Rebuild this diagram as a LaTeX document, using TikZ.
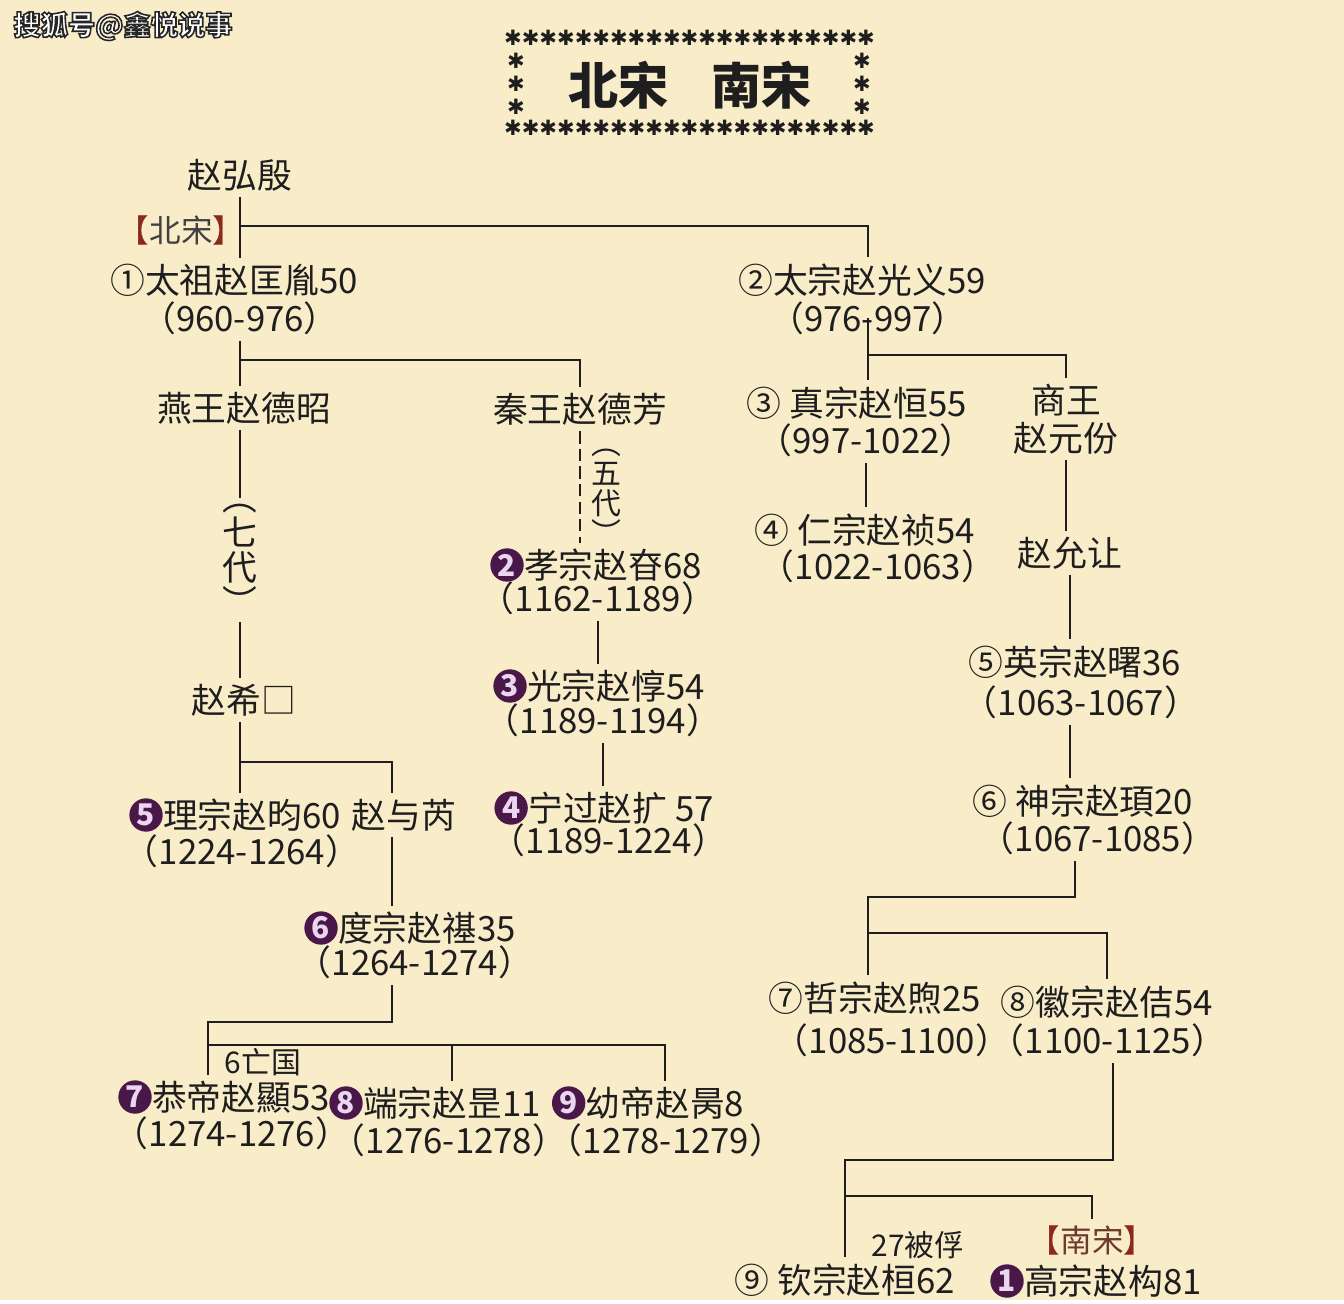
\documentclass[tikz,border=0pt]{standalone}
\usepackage{fontspec}
\setmainfont{Noto Sans CJK SC}
\newfontfamily\symfont{DejaVu Sans}
\usetikzlibrary{positioning}
\definecolor{paper}{HTML}{F9ECC9}
\definecolor{ink}{HTML}{1E1E1E}
\definecolor{plum}{HTML}{4A1848}
\definecolor{lilac}{HTML}{EBD6F2}
\definecolor{brick}{HTML}{8B2A1C}
\definecolor{rust}{HTML}{6E3A2C}
\newcommand\outlined[1]{\color{white}\special{pdf:code 0.15 G 0.9 w 2 Tr}#1\special{pdf:code 0 Tr}}
\begin{document}
\begin{tikzpicture}[x=0.02cm,y=-0.02cm,
    lbl/.style={font=\fontsize{19.8}{24}\selectfont,text=ink},
    small/.style={font=\fontsize{17}{20}\selectfont,text=ink},
    pnum/.style={circle,fill=plum,text=lilac,inner sep=0pt,minimum size=19pt,font=\bfseries\fontsize{17}{17}\selectfont},
    starmark/.style={font=\symfont\fontsize{12}{12}\selectfont,text=ink,inner sep=0pt},
    link/.style={draw=ink,line width=1.1pt}]
  \fill[paper] (0,0) rectangle (1344,1300);
  \node[font=\bfseries\fontsize{15.5}{15.5}\selectfont] (mark) at (123,26) {\outlined{搜狐号@鑫悦说事}};
  \foreach \i in {0,...,20} {
    \node[starmark] (top\i) at (513+17.65*\i,38) {✱};
    \node[starmark] (bot\i) at (513+17.65*\i,128) {✱};
  }
  \foreach \y in {61,84,107} {
    \node[starmark] (lft\y) at (516,\y) {✱};
    \node[starmark] (rgt\y) at (862,\y) {✱};
  }
  \node[font=\bfseries\fontsize{28.5}{28.5}\selectfont,text=ink] (title) at (690,85) {北宋\hspace{0.85em}南宋};
  \draw
    (240,175) node[lbl] (hongyin){赵弘殷}
    (181,230) node[lbl,font=\fontsize{18}{20}\selectfont,text=black!75] (beisong){\textcolor{brick}{【}北宋\textcolor{brick}{】}}
    (234,280) node[lbl] (taizu){①太祖赵匡胤50}
    (240,318) node[lbl] (taizuyr){（960-976）}
    (862,280) node[lbl] (taizong){②太宗赵光义59}
    (868,318) node[lbl] (taizongyr){（976-997）}
    (244,408) node[lbl] (yanwang){燕王赵德昭}
    (580,409) node[lbl] (qinwang){秦王赵德芳}
    (240,560) node[lbl,align=center,font=\fontsize{19.8}{20}\selectfont] (qidai){︵\\七\\代\\︶}
    (244,700) node[lbl] (zhaoxi){赵希□}
    (252,815) node[lbl] (lizong){理宗赵昀60}
    (242,851) node[lbl] (lizongyr){（1224-1264）}
    (404,815) node[lbl] (yurui){赵与芮}
    (427,928) node[lbl] (duzong){度宗赵禥35}
    (415,962) node[lbl] (duzongyr){（1264-1274）}
    (263,1062) node[small] (wangguo){6亡国}
    (241,1097) node[lbl] (gongdi){恭帝赵顯53}
    (232,1133) node[lbl] (gongdiyr){（1274-1276）}
    (452,1103) node[lbl] (duanzong){端宗赵昰11}
    (449,1140) node[lbl] (duanzongyr){（1276-1278）}
    (665,1103) node[lbl] (youdi){幼帝赵昺8}
    (666,1140) node[lbl] (youdiyr){（1278-1279）};
  \draw
    (606,497) node[small,align=center,font=\fontsize{17}{17}\selectfont] (wudai){︵\\五\\代\\︶}
    (613,565) node[lbl] (xiaozong){孝宗赵昚68}
    (598,598) node[lbl] (xiaozongyr){（1162-1189）}
    (616,686) node[lbl] (guangzong){光宗赵惇54}
    (603,720) node[lbl] (guangzongyr){（1189-1194）}
    (621,808) node[lbl] (ningzong){宁过赵扩 57}
    (609,840) node[lbl] (ningzongyr){（1189-1224）};
  \draw
    (857,403) node[lbl] (zhenzong){③ 真宗赵恒55}
    (866,440) node[lbl] (zhenzongyr){（997-1022）}
    (1066,419) node[lbl,align=center,font=\fontsize{19.8}{21.5}\selectfont] (shangwang){商王\\赵元份}
    (865,530) node[lbl] (renzong){④ 仁宗赵祯54}
    (878,566) node[lbl] (renzongyr){（1022-1063）}
    (1070,553) node[lbl] (yunrang){赵允让}
    (1075,662) node[lbl] (yingzong){⑤英宗赵曙36}
    (1081,702) node[lbl] (yingzongyr){（1063-1067）}
    (1083,801) node[lbl] (shenzong){⑥ 神宗赵頊20}
    (1098,838) node[lbl] (shenzongyr){（1067-1085）}
    (875,998) node[lbl] (zhezong){⑦哲宗赵煦25}
    (892,1040) node[lbl] (zhezongyr){（1085-1100）}
    (1107,1002) node[lbl] (huizong){⑧徽宗赵佶54}
    (1108,1040) node[lbl] (huizongyr){（1100-1125）}
    (918,1245) node[small] (beifu){27被俘}
    (1092,1240) node[lbl,font=\fontsize{18}{20}\selectfont,text=rust] (nansong){\textcolor{brick}{【}南宋\textcolor{brick}{】}}
    (845,1280) node[lbl] (qinzong){⑨ 钦宗赵桓62}
    (1113,1281) node[lbl] (gaozong){高宗赵构81};
  \node[pnum,left=-3.5pt of lizong] (lizongno){5};
  \node[pnum,left=-3.5pt of duzong] (duzongno){6};
  \node[pnum,left=-3.5pt of gongdi] (gongdino){7};
  \node[pnum,left=-3.5pt of duanzong] (duanzongno){8};
  \node[pnum,left=-3.5pt of youdi] (youdino){9};
  \node[pnum,left=-3.5pt of xiaozong] (xiaozongno){2};
  \node[pnum,left=-3.5pt of guangzong] (guangzongno){3};
  \node[pnum,left=-3.5pt of ningzong] (ningzongno){4};
  \node[pnum,left=-3.5pt of gaozong] (gaozongno){1};
  \coordinate (j0) at (240,226);
  \coordinate (j1) at (240,360);
  \coordinate (j2) at (240,762);
  \coordinate (j3) at (392,1022);
  \coordinate (j4) at (208,1045);
  \coordinate (j5) at (868,355);
  \coordinate (j6) at (1075,897);
  \coordinate (j7) at (868,933);
  \coordinate (j8) at (1113,1160);
  \coordinate (j9) at (845,1196);
  \begin{scope}[link]
    \draw (hongyin.south) -- (hongyin.south |- taizu.north);
    \draw (j0) -| (taizongyr.center |- taizong.north);
    \draw (taizuyr.south) -- (taizuyr.south |- yanwang.north);
    \draw (j1) -| (qinwang.north);
    \draw (yanwang.south -| qidai) -- (qidai.north);
    \draw (qidai.south) -- (qidai.south |- zhaoxi.north);
    \draw (zhaoxi.south -| qidai) -- (qidai |- lizong.north);
    \draw (j2) -| (j3 |- yurui.north);
    \draw (yurui.south -| j3) -- (j3 |- duzong.north);
    \draw (duzongyr.south -| j3) -- (j3) -| (j4 |- gongdi.north);
    \draw (j4) -| (youdi.north);
    \draw (j4 -| duanzong.north) -- (duanzong.north);
    \draw[dashed,dash pattern=on 7pt off 3pt] (qinwang.south) -- (qinwang.south |- xiaozong.north);
    \draw (xiaozongyr.south) -- (xiaozongyr.south |- guangzong.north);
    \draw (guangzongyr.south) -- (guangzongyr.south |- ningzong.north);
    \draw (taizongyr.center) -- (taizongyr.center |- zhenzong.north);
    \draw (j5) -| (shangwang.north);
    \draw (zhenzongyr.south) -- (zhenzongyr.south |- renzong.north);
    \draw (shangwang.south) -- (shangwang.south |- yunrang.north);
    \draw (yunrang.south) -- (yunrang.south |- yingzong.north);
    \draw (yingzongyr.south -| yunrang) -- (yunrang |- shenzong.north);
    \draw (shenzongyr.south -| j6) -- (j6) -| (j7 |- zhezong.north);
    \draw (j7) -| (huizong.north);
    \draw (huizongyr.south -| j8) -- (j8) -| (j9 |- qinzong.north);
    \draw (j9) -| (nansong.north);
  \end{scope}
\end{tikzpicture}
\end{document}
